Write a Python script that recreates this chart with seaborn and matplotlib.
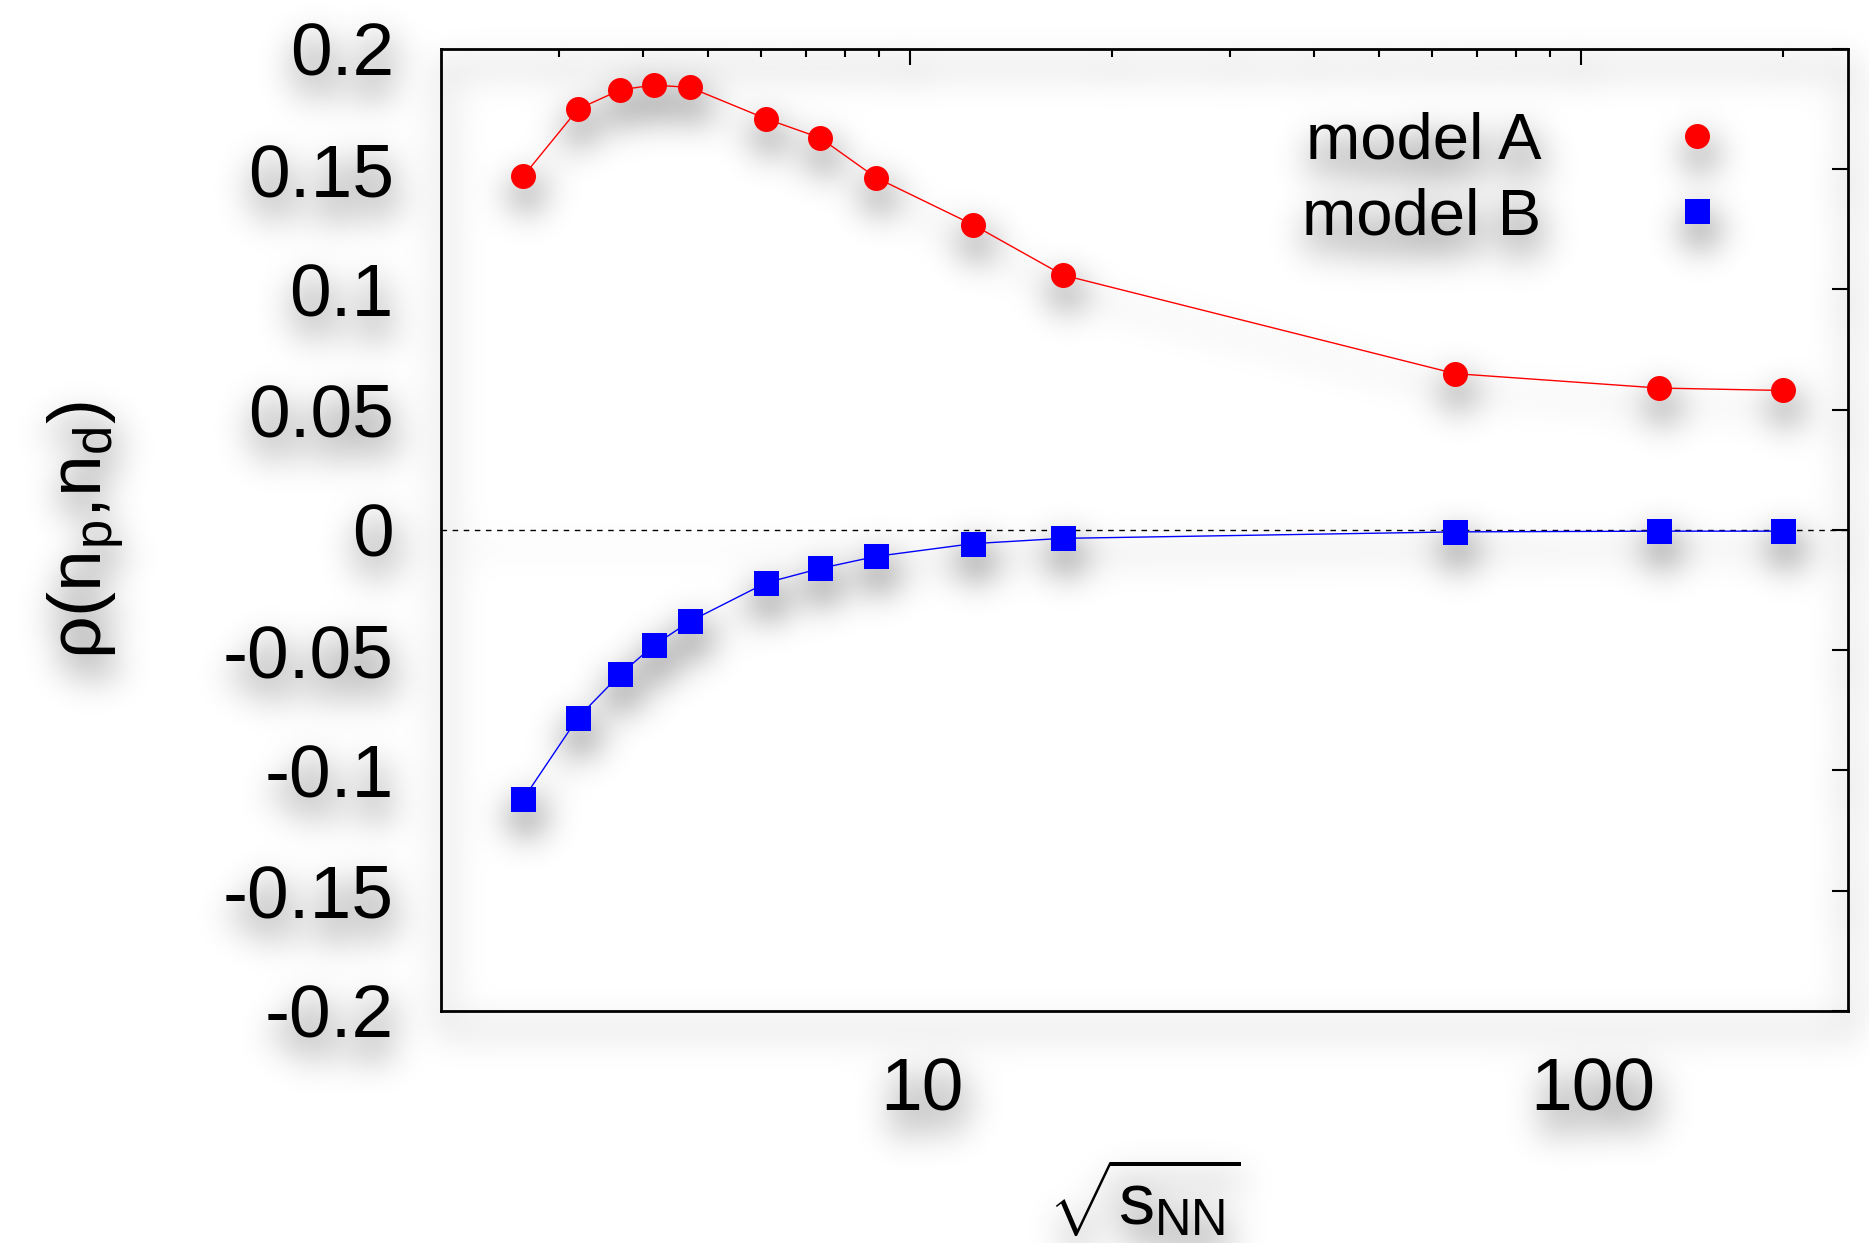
import numpy as np
import pandas as pd
import matplotlib
matplotlib.use('Agg')
import matplotlib.pyplot as plt
import matplotlib.transforms as mtransforms
import seaborn as sns
from matplotlib.lines import Line2D
from matplotlib.ticker import NullFormatter

# values
sqrt_s = [2.65, 3.2, 3.7, 4.15, 4.7, 6.1, 7.35, 8.9, 12.4, 16.9, 65, 131, 200]
rho_a = [0.147, 0.175, 0.183, 0.185, 0.184, 0.171, 0.163, 0.1465, 0.127, 0.106, 0.065, 0.059, 0.058]
rho_b = [-0.112, -0.078, -0.060, -0.048, -0.038, -0.022, -0.016, -0.011, -0.0057, -0.0035, -0.0008, -0.0005, -0.0005]
model_names = ['model A', 'model B']
model_colors = {'model A': '#ff0000', 'model B': '#0000ff'}
model_markers = {'model A': 'o', 'model B': 's'}

xtick_major = [10, 100]
xtick_major_labels = ['10', '100']
xtick_minor = [3, 4, 5, 6, 7, 8, 9, 20, 30, 40, 50, 60, 70, 80, 90, 200]
ytick_vals = [-0.2, -0.15, -0.1, -0.05, 0, 0.05, 0.1, 0.15, 0.2]
ytick_labels = ['-0.2', '-0.15', '-0.1', '-0.05', '0', '0.05', '0.1', '0.15', '0.2']

df = pd.DataFrame({
    'sqrt_s': sqrt_s + sqrt_s,
    'rho': rho_a + rho_b,
    'model': ['model A'] * len(sqrt_s) + ['model B'] * len(sqrt_s),
})

sns.set_theme(style='white')
plt.rcParams['font.family'] = ['Liberation Sans', 'DejaVu Sans']
plt.rcParams['text.color'] = 'black'
plt.rcParams['mathtext.fontset'] = 'custom'
plt.rcParams['mathtext.rm'] = 'Liberation Sans'
plt.rcParams['mathtext.it'] = 'Liberation Sans'
plt.rcParams['mathtext.bf'] = 'Liberation Sans:bold'


def gblur(a, s):
    # gaussian blur via fft, one axis at a time
    for axis in (0, 1):
        n = a.shape[axis]
        g = np.exp(-2 * (np.pi * s * np.fft.rfftfreq(n)) ** 2)
        shape = [1, 1]
        shape[axis] = -1
        a = np.fft.irfft(np.fft.rfft(a, axis=axis) * g.reshape(shape), n=n, axis=axis)
    return a


def drop_shadow(img, dpi):
    pad = 90
    h, w = img.shape[:2]
    src = np.zeros((h + 2 * pad, w + 2 * pad, 4))
    src[pad:pad + h, pad:pad + w] = img
    a = src[..., 3]
    sh = np.roll(np.roll(a, 18, axis=0), 3, axis=1)
    sh = np.clip(gblur(sh, 18) * 0.75, 0, 1)
    out_a = a + sh * (1 - a)
    rgb = src[..., :3] * a[..., None] / np.maximum(out_a, 1e-6)[..., None]
    return np.dstack([rgb, out_a]), -pad, -pad


fig, ax = plt.subplots(figsize=(18.69, 12.43), dpi=100)
fig.subplots_adjust(left=0.236, right=0.9886, bottom=0.1867, top=0.9606)
ax.set_facecolor('none')

ax.axhline(0, color='black', lw=1.0, ls=(0, (4, 4)), zorder=1)
sns.lineplot(data=df, x='sqrt_s', y='rho', hue='model', style='model',
             markers=model_markers, dashes=False, palette=model_colors,
             markersize=18, markeredgewidth=0, linewidth=1.0,
             legend=False, ax=ax, zorder=3)

ax.set_xscale('log')
ax.set_xlim(2, 250)
ax.set_ylim(-0.2, 0.2)
ax.set_xticks(xtick_major, labels=xtick_major_labels)
ax.set_xticks(xtick_minor, minor=True)
ax.xaxis.set_minor_formatter(NullFormatter())
ax.set_yticks(ytick_vals, labels=ytick_labels)

ax.tick_params(which='both', direction='in', top=True, right=True,
               width=1.5, color='black', labelsize=54, labelcolor='black')
ax.tick_params(which='major', length=11.5)
ax.tick_params(which='minor', length=5.8)
ax.tick_params(axis='x', pad=33)
ax.tick_params(axis='y', pad=34)
for sp in ax.spines.values():
    sp.set_linewidth(2.0)
    sp.set_color('black')

# gnuplot puts the x tick labels a bit right of the tick
shift = mtransforms.ScaledTranslation(0.12, 0, fig.dpi_scale_trans)
for lbl in ax.get_xticklabels():
    lbl.set_transform(lbl.get_transform() + shift)

ax.set_xlabel(r'$\sqrt{s_{\mathrm{NN}}}$', fontsize=52, color='black')
ax.set_ylabel(r'ρ(n$_{\mathrm{p}}$,n$_{\mathrm{d}}$)', fontsize=54, color='black')
ax.xaxis.set_label_coords(0.5, -0.153)
ax.yaxis.set_label_coords(-0.223, 0.5)

handles = [Line2D([], [], ls='none', marker=model_markers[m], color=model_colors[m],
                  markersize=18, markeredgewidth=0) for m in model_names]
ax.legend(handles, model_names, loc='upper left', bbox_to_anchor=(0.612, 0.935),
          frameon=False, fontsize=47, markerfirst=False, handlelength=1.0,
          handletextpad=1.88, labelspacing=0.24, borderpad=0, borderaxespad=0,
          labelcolor='black')

ax.set_agg_filter(drop_shadow)

fig.savefig('out.png', dpi=100, facecolor='white')
